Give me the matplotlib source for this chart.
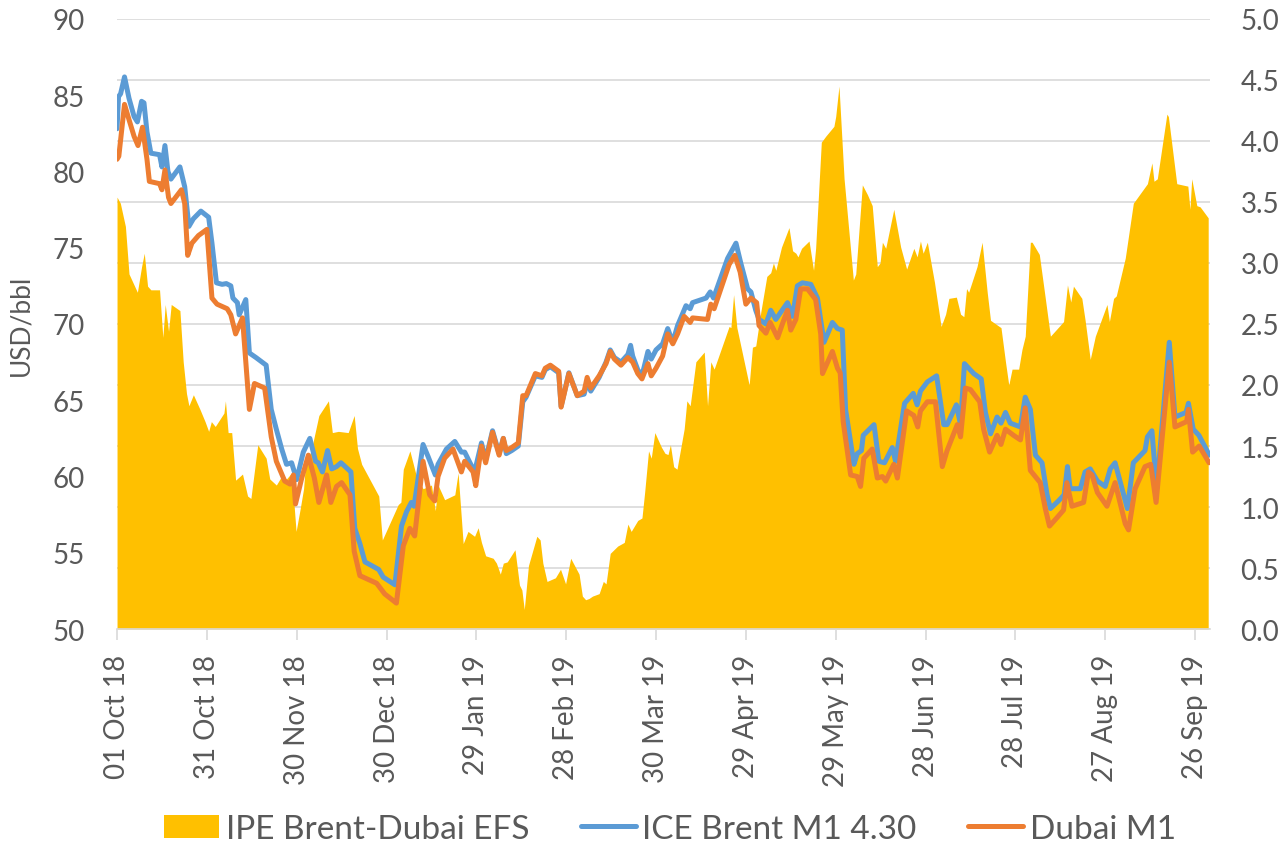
import numpy as np
import pandas as pd
import matplotlib
matplotlib.use("Agg")
import matplotlib.pyplot as plt
from matplotlib.patches import Patch
from matplotlib.lines import Line2D

plt.rcParams['font.family'] = ['Lato', 'DejaVu Sans']

# day offsets from 01 Oct 2018
start = pd.Timestamp('2018-10-01')

efs_day = [0, 1.1, 2.8, 4, 6.8, 8.2, 9.1, 10.2, 11.3, 14.2, 15.3, 16.1, 17.2, 18.1, 21, 22.1,
           23.2, 24, 25.5, 27.7, 29.4, 30.6, 31.5, 32.8, 35.7, 36.2, 37.1, 38.3, 39.6, 41.9,
           43.6, 44.7, 47, 49.8, 51, 53.2, 54.9, 56.6, 58.3, 59.8, 61.2, 62.3, 62.8, 65, 67.4,
           70.6, 71.9, 73.9, 77.2, 79.2, 80.3, 81.7, 87.4, 88.6, 93.9, 94.8, 95.6, 97.8, 100,
           102.2, 105, 106.3, 107.2, 109.4, 112.8, 113.9, 115.6, 117.2, 119.4, 120.6, 121.7,
           123.1, 125.6, 126.7, 128, 129, 130.3, 132.9, 134.4, 135.2, 136, 137.4, 140.2, 141.3,
           142.2, 143.6, 146.4, 148.1, 149.8, 151.5, 154.3, 155.4, 156.5, 157.6, 158.8, 161,
           162.4, 163.3, 164.7, 167.2, 169.4, 170.6, 171.7, 173.9, 175.3, 176.2, 177.5, 178.4,
           179.6, 181.8, 183, 184, 184.8, 185.9, 187, 189.4, 190.3, 191.4, 193.3, 196.1, 197.2,
           198.3, 199.4, 204.4, 205, 205.9, 207, 211.1, 212.2, 213.3, 215, 217, 218.3, 219.2,
           220, 221.9, 224.4, 225.6, 226.7, 227.4, 228.6, 231.1, 232.6, 233.3, 235.2, 236.7,
           239.4, 240, 241.1, 242.8, 245.9, 246.7, 248.9, 250.6, 252.2, 253.9, 254.8, 255.6,
           256.7, 259.4, 261.7, 263.7, 266.1, 267.2, 268.3, 269.2, 270.6, 273, 275.2, 276.7,
           277.8, 280.3, 281.7, 282.8, 283.7, 284.4, 287.2, 288.9, 290.6, 291.7, 295.2, 296.7,
           297.8, 298.9, 301.1, 302.2, 303.3, 305, 305.6, 308, 310, 311.7, 316.1, 317.4, 318.5,
           319.4, 322.2, 323.3, 325, 326.7, 330.6, 331.4, 332.8, 333.7, 336.7, 339.4, 344.1,
           345.6, 346.3, 347.4, 350.6, 351.1, 353.9, 357.6, 358.3, 358.9, 360.6, 361.7, 364.4]
efs = [3.54, 3.49, 3.30, 2.91, 2.76, 2.97, 3.08, 2.81, 2.78, 2.78, 2.39, 2.66, 2.44, 2.66, 2.61, 2.19,
       1.93, 1.83, 1.92, 1.80, 1.70, 1.62, 1.70, 1.66, 1.77, 1.87, 1.61, 1.61, 1.22, 1.27,
       1.09, 1.07, 1.51, 1.40, 1.23, 1.18, 1.25, 1.23, 1.28, 0.80, 0.99, 1.15, 1.31, 1.48, 1.75,
       1.87, 1.61, 1.62, 1.61, 1.75, 1.48, 1.35, 1.09, 0.73, 1.02, 1.04, 1.31, 1.46, 1.25,
       1.15, 1.18, 0.97, 1.18, 1.06, 1.10, 1.28, 0.70, 0.80, 0.76, 0.83, 0.71,
       0.60, 0.58, 0.54, 0.45, 0.54, 0.55, 0.65, 0.36, 0.32, 0.16, 0.52, 0.76, 0.73,
       0.54, 0.39, 0.42, 0.49, 0.37, 0.58, 0.45, 0.27, 0.24, 0.25, 0.27, 0.29,
       0.39, 0.37, 0.62, 0.68, 0.71, 0.86, 0.80, 0.89, 0.91, 1.12, 1.46, 1.40,
       1.61, 1.49, 1.44, 1.43, 1.51, 1.33, 1.31, 1.64, 1.87, 1.83, 2.19, 2.27, 1.83,
       2.19, 2.13, 2.48, 2.47, 2.74, 2.47, 2.00, 2.31, 2.32, 2.60, 2.89, 2.92, 3.00,
       2.94, 3.13, 3.29, 3.10, 3.08, 3.05, 3.12, 3.18, 2.94, 3.12, 3.99, 4.04,
       4.12, 4.20, 4.45, 3.69, 2.86, 2.91, 3.64, 3.56, 3.47, 2.97, 3.00, 3.17,
       3.12, 3.44, 3.13, 2.95, 3.12, 3.05, 3.18, 3.08, 3.17, 2.84, 2.48, 2.58,
       2.71, 2.72, 2.58, 2.56, 2.79, 2.76, 2.97, 3.17, 2.76, 2.53, 2.47, 2.19,
       2.00, 2.13, 2.13, 2.29, 2.40, 3.17, 3.17, 3.07, 2.71, 2.40, 2.52, 2.82, 2.68,
       2.81, 2.71, 2.53, 2.21, 2.40, 2.66, 2.52, 2.71, 2.73, 3.04, 3.49, 3.65,
       3.82, 3.67, 3.69, 4.22, 4.20, 3.65, 3.63, 3.44, 3.69, 3.47, 3.46, 3.37]

brent_day = [0, 0.5, 1.2, 2.5, 4, 5.7, 6.8, 8.2, 9, 10, 11.3, 14.2, 15, 16, 17, 18, 21, 22.6, 24,
             25.5, 28, 30.6, 31.7, 33.2, 35.1, 36.5, 38, 38.7, 40.2, 40.8, 43, 44.2, 46.4, 49.8,
             51.5, 53.2, 55, 56.6, 58.3, 60, 62.2, 64.4, 66.3, 67.2, 68.6, 70.3, 71.7, 73.3, 74.8,
             78.1, 79.4, 81.1, 82.8, 87.4, 88.9, 92.8, 95, 96.7, 98.3, 99.2, 102.2, 103.9, 106.3,
             107.2, 110, 112.8, 115, 116.1, 119.4, 121.7, 123.1, 125.4, 127.6, 129, 130, 131.8,
             134, 135.5, 136.6, 139.7, 141.9, 143, 144.7, 147.5, 148.3, 150.9, 153.7, 156, 157,
             158.2, 161, 163.3, 164.7, 166.1, 168.3, 170.6, 171.5, 172.2, 173.9, 175.3, 177.3,
             178.4, 180, 182.2, 183.9, 185.6, 187.2, 190, 191.4, 192.2, 196.7, 198.1, 199.2,
             203.9, 206.7, 208.3, 210.6, 211.7, 213.3, 214.4, 216.7, 218.3, 220, 223.9, 225.6,
             227.2, 228.9, 231.7, 233.9, 236.1, 238.9, 240.6, 242.2, 243.3, 246.1, 247.2, 248.6,
             249.2, 252.8, 254.4, 256.3, 258.9, 260, 263, 265.9, 267.2, 268.3, 270.6, 273.7,
             276.1, 277.2, 280.3, 281.7, 283, 286.1, 288.6, 290, 291.7, 293.9, 295.2, 296.7,
             298.3, 301.7, 303.3, 305, 306.7, 308.9, 310.6, 311.7, 314.4, 316.3, 317.4, 318.3,
             321.7, 323.3, 325, 327.4, 330, 331.7, 333.3, 337.4, 339.4, 343.3, 344.1, 345.6,
             347.2, 351.4, 353.3, 357, 357.8, 359.4, 361.3, 364.8]
brent = [82.8, 84.9, 85.1, 86.2, 84.8, 83.6, 83.25, 84.6, 84.5, 82.6, 81.2, 81.1, 80.3, 81.7, 80.0,
         79.5, 80.3, 79.0, 76.4, 76.9, 77.4, 77.0, 75.3, 72.7, 72.6, 72.65, 72.5, 71.7, 71.4, 70.6,
         71.6, 68.1, 67.8, 67.3, 64.4, 63.1, 61.8, 60.8, 60.9, 59.8, 61.6, 62.5, 61.0, 60.9, 60.3,
         61.7, 60.5, 60.65, 60.9, 60.3, 56.6, 55.6, 54.4, 53.9, 53.4, 52.9, 56.75, 57.7, 58.3,
         58.05, 62.1, 61.3, 60.1, 60.8, 61.8, 62.3, 61.6, 61.6, 60.3, 62.2, 61.1, 63.0, 61.5, 62.5,
         61.5, 61.7, 62.0, 64.9, 65.2, 66.6, 66.5, 67.0, 67.2, 66.8, 64.6, 66.8, 65.3, 65.4, 66.2,
         65.6, 66.5, 67.5, 68.3, 67.8, 67.5, 68.0, 68.6, 67.9, 67.0, 66.6, 68.2, 67.7, 68.3, 68.7,
         69.7, 68.8, 69.9, 71.2, 71.0, 71.4, 71.7, 72.1, 71.7, 74.3, 75.3, 74.0, 72.3, 72.1, 70.9,
         70.3, 70.0, 70.9, 70.3, 71.4, 70.5, 72.5, 72.7, 72.6, 71.7, 68.8, 70.1, 69.7, 69.6, 64.4,
         60.8, 61.5, 61.7, 62.7, 63.4, 61.0, 60.9, 61.9, 61.0, 64.8, 65.45, 64.7, 65.6, 66.2, 66.6,
         63.4, 63.4, 64.7, 63.4, 67.4, 66.75, 66.4, 64.2, 62.8, 63.9, 63.5, 64.2, 63.5, 63.25, 65.2,
         64.4, 61.4, 60.9, 58.8, 57.9, 58.4, 58.8, 60.65, 59.2, 59.2, 60.3, 60.5, 59.7, 59.35, 60.5,
         60.9, 57.9, 60.9, 61.7, 62.6, 63.0, 59.2, 68.8, 63.9, 64.2, 64.8, 63.1, 62.7, 61.4]

dubai_day = [0, 0.6, 2.5, 4, 5.7, 7, 8.5, 10, 10.8, 14.2, 15, 16, 17.2, 18, 21.5, 22.6, 23.6, 25,
             27.2, 30, 31.7, 33.4, 36.8, 38, 39.6, 41.9, 44.2, 45.9, 49.3, 51.5, 53.2, 56, 57.8,
             58.9, 59.6, 61.7, 63.9, 65.9, 67.4, 70, 71.4, 73.3, 75, 77.8, 79.2, 81.1, 86.7, 89.4,
             93.3, 95.6, 97.8, 99.4, 102.2, 104.4, 106.1, 107.2, 109.4, 112.2, 115, 116.1, 118.9,
             119.8, 121.7, 123.1, 125.4, 127.6, 129, 130, 131.8, 134, 135.5, 136.6, 139.7, 141.9,
             143, 144.7, 147.5, 148.3, 150.9, 153.7, 156, 157, 158.2, 161, 163.3, 164.7, 166.1,
             168.3, 170.6, 172.2, 173.9, 175.3, 177.3, 178.4, 180, 182.2, 183.9, 185.6, 187.2,
             189.4, 191.4, 192.2, 197.2, 198.3, 199.4, 204.4, 206.3, 208.1, 210, 211.7, 213.6,
             214.4, 216.7, 218.1, 220.6, 222.2, 223.9, 225, 226.7, 228.3, 230.6, 233.3, 235,
             235.6, 238.9, 240.6, 241.5, 242.5, 245, 247.2, 248.3, 249.4, 252.2, 253.9, 255.6,
             256.7, 259.4, 260.6, 263.7, 266.1, 267.4, 268.3, 270.6, 273.3, 275.6, 277.2, 280.6,
             281.7, 283.3, 285, 288.1, 289.4, 291.4, 293.9, 295.2, 296.7, 299.4, 301.7, 303.3,
             305, 308.3, 310, 311.4, 313.9, 316.1, 317.2, 318.9, 322.8, 324.4, 325.6, 327.4,
             330.6, 333.3, 336.7, 337.8, 340, 343.3, 345.2, 347, 351.4, 353.3, 357.2, 357.8,
             359.2, 361.4, 364.7]
dubai = [80.8, 81.0, 84.4, 83.4, 82.3, 81.7, 82.9, 80.8, 79.35, 79.2, 78.8, 80.1, 78.3, 77.9, 78.8,
         77.9, 74.5, 75.3, 75.8, 76.2, 71.7, 71.3, 71.0, 70.6, 69.35, 70.4, 64.4, 66.1, 65.8, 62.6,
         61.0, 59.7, 59.5, 60.1, 58.2, 59.9, 61.4, 59.9, 58.3, 60.1, 58.3, 59.35, 59.6, 58.8, 55.1,
         53.5, 53.0, 52.3, 51.7, 55.45, 56.6, 56.1, 61.0, 58.8, 58.4, 60.0, 61.2, 61.8, 60.3, 61.0,
         60.3, 59.4, 62.0, 60.9, 62.9, 61.4, 62.5, 61.7, 61.9, 62.2, 65.3, 65.3, 66.75, 66.6, 67.1,
         67.3, 66.9, 64.55, 66.75, 65.3, 65.6, 66.5, 65.8, 66.6, 67.4, 68.2, 67.7, 67.3, 67.8,
         67.5, 66.75, 66.4, 67.4, 66.6, 67.1, 67.9, 69.35, 68.7, 69.35, 70.5, 70.1, 70.4, 70.3,
         71.3, 71.0, 73.9, 74.5, 73.4, 71.3, 71.7, 71.4, 69.9, 69.4, 70.1, 69.1, 70.0, 70.9, 69.6,
         70.3, 72.3, 72.3, 71.6, 69.35, 66.75, 68.2, 67.1, 66.8, 63.6, 60.1, 60.0, 59.35, 61.2,
         61.8, 59.9, 60.0, 59.7, 60.8, 59.9, 64.3, 64.0, 63.25, 64.3, 64.9, 64.9, 60.65, 61.7,
         63.4, 62.6, 65.8, 65.7, 64.9, 63.1, 61.6, 62.7, 62.1, 63.1, 62.7, 62.4, 64.5, 60.4, 59.6,
         57.9, 56.75, 57.3, 57.8, 59.6, 58.05, 58.3, 60.3, 60.1, 58.95, 58.05, 59.6, 56.9, 56.5,
         59.2, 60.65, 60.8, 58.3, 67.5, 63.25, 63.6, 64.4, 61.6, 62.0, 60.9]

tick_days = list(range(0, 361, 30))
tick_labels = [(start + pd.Timedelta(days=d)).strftime('%d %b %y') for d in tick_days]

c_efs = '#FFC000'
c_brent = '#5B9BD5'
c_dubai = '#ED7D31'
c_text = '#595959'
c_grid = '#D9D9D9'

fig = plt.figure(figsize=(12.86, 8.53), dpi=100)
ax = fig.add_axes([0.091, 0.2614, 0.8499, 0.7152])
ax2 = ax.twinx()
ax.set_zorder(ax2.get_zorder() + 1)
ax.patch.set_visible(False)

# area on secondary axis, gridlines drawn below it
ax2.set_axisbelow(True)
ax2.yaxis.grid(True, color=c_grid, linewidth=1.2)
ax2.fill_between(efs_day, efs, 0, color=c_efs, linewidth=0)

ax.plot(brent_day, brent, color=c_brent, linewidth=3.6, solid_joinstyle='round', solid_capstyle='round')
ax.plot(dubai_day, dubai, color=c_dubai, linewidth=3.6, solid_joinstyle='round', solid_capstyle='round')

ax.set_xlim(0, 365)
ax.set_ylim(50, 90)
ax2.set_ylim(0, 5)
ax.set_yticks(np.arange(50, 91, 5))
ax2.set_yticks(np.arange(0, 5.01, 0.5))
ax2.set_yticklabels([f'{v:.1f}' for v in np.arange(0, 5.01, 0.5)])

ax.set_xticks(tick_days)
ax.set_xticklabels(tick_labels, rotation=90, fontsize=20, color=c_text)

for a in (ax, ax2):
    for s in a.spines.values():
        s.set_visible(False)
ax.spines['bottom'].set_visible(True)
ax.spines['bottom'].set_color(c_grid)
ax.spines['bottom'].set_linewidth(1.2)

ax.tick_params(axis='x', length=8, width=1.2, color=c_grid, pad=10)
ax.tick_params(axis='y', length=0, labelsize=20, labelcolor=c_text, pad=23)
ax2.tick_params(axis='y', length=0, labelsize=20, labelcolor=c_text, pad=22)

ax.set_ylabel('USD/bbl', fontsize=19, color=c_text, labelpad=14)

handles = [Patch(facecolor=c_efs, edgecolor='none'),
           Line2D([], [], color=c_brent, linewidth=3.6, solid_capstyle='round'),
           Line2D([], [], color=c_dubai, linewidth=3.6, solid_capstyle='round')]
labels = ['IPE Brent-Dubai EFS', 'ICE Brent M1 4.30', 'Dubai M1']
fig.legend(handles, labels, loc='center', bbox_to_anchor=(0.521, 0.027), ncol=3,
           frameon=False, fontsize=24, labelcolor=c_text, handlelength=1.65,
           handleheight=0.7, handletextpad=0.2, columnspacing=1.55)

fig.savefig('out.png', dpi=100)
